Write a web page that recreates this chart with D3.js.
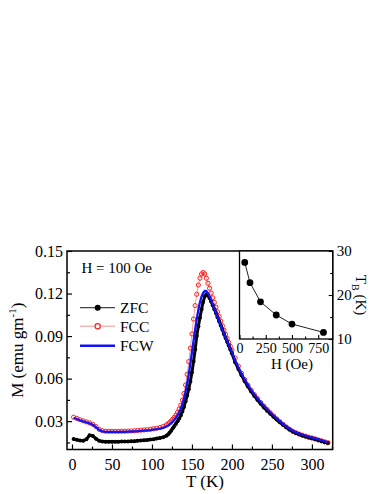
<!DOCTYPE html>
<html>
<head>
<meta charset="utf-8">
<script src="https://cdn.jsdelivr.net/npm/d3@7"></script>
<style>
  body { margin: 0; background: #fff; }
  svg text { font-family: "Liberation Serif", "Times New Roman", serif; fill: #000; }
</style>
</head>
<body>
<svg id="chart" width="382" height="494"></svg>
<script>
// temperatures (K) shared by the three curves
var tempK = [2,6,10,14,18,22,26,30,34,38,42,46,50,54,58,62,66,70,74,78,82,86,90,94,98,102,106,110,114,118,
  120,122,124,126,128,130,132,134,136,138,140,142,144,146,148,150,152,154,156,158,160,162,164,166,168,170,
  172,174,176,178,180,182,184,186,188,190,192,194,196,198,200,
  204,208,212,216,220,224,228,232,236,240,244,248,252,256,260,264,268,272,276,280,284,288,292,296,300,304,308,312,316,320];

var zfc = [0.0174,0.0168,0.0163,0.0162,0.0172,0.0200,0.0196,0.0176,0.0161,0.0156,0.0155,0.0155,0.0155,0.0155,0.0155,0.0156,0.0156,0.0157,0.0158,0.0159,0.0161,0.0163,0.0165,0.0167,0.0170,0.0173,0.0177,0.0181,0.0187,0.0197,
  0.0205,0.0218,0.0233,0.0249,0.0265,0.0282,0.0300,0.0318,0.0340,0.0368,0.0400,0.0440,0.0480,0.0525,0.0580,0.0645,0.0720,0.0805,0.0900,0.0970,0.1030,0.1090,0.1140,0.1180,0.1195,0.1188,
  0.1168,0.1143,0.1117,0.1090,0.1062,0.1033,0.1004,0.0975,0.0946,0.0915,0.0887,0.0860,0.0833,0.0806,0.0778,
  0.0716,0.0668,0.0623,0.0582,0.0544,0.0509,0.0478,0.0449,0.0422,0.0397,0.0374,0.0352,0.0331,0.0311,0.0292,0.0274,0.0257,0.0241,0.0227,0.0216,0.0207,0.0199,0.0192,0.0185,0.0179,0.0173,0.0166,0.0159,0.0152,0.0146];

var fcc = [0.0328,0.0319,0.0310,0.0302,0.0295,0.0288,0.0278,0.0262,0.0242,0.0232,0.0229,0.0228,0.0228,0.0228,0.0228,0.0229,0.0229,0.0230,0.0231,0.0232,0.0234,0.0236,0.0238,0.0240,0.0243,0.0246,0.0250,0.0255,0.0262,0.0273,
  0.0281,0.0290,0.0301,0.0313,0.0327,0.0343,0.0362,0.0385,0.0412,0.0448,0.0495,0.0555,0.0630,0.0720,0.0815,0.0915,0.1020,0.1115,0.1195,0.1260,0.1308,0.1338,0.1348,0.1338,0.1308,0.1272,
  0.1237,0.1203,0.1170,0.1137,0.1104,0.1071,0.1038,0.1005,0.0973,0.0942,0.0912,0.0883,0.0855,0.0828,0.0801,
  0.0745,0.0688,0.0637,0.0593,0.0553,0.0518,0.0487,0.0458,0.0431,0.0406,0.0382,0.0359,0.0337,0.0316,0.0296,0.0277,0.0259,0.0243,0.0229,0.0218,0.0209,0.0201,0.0194,0.0187,0.0181,0.0175,0.0168,0.0161,0.0154,0.0148];

var fcw = [0.0324,0.0315,0.0306,0.0298,0.0291,0.0284,0.0274,0.0257,0.0238,0.0228,0.0225,0.0224,0.0224,0.0224,0.0224,0.0225,0.0225,0.0226,0.0227,0.0228,0.0229,0.0231,0.0233,0.0235,0.0237,0.0240,0.0243,0.0247,0.0253,0.0262,
  0.0268,0.0276,0.0285,0.0296,0.0309,0.0324,0.0342,0.0363,0.0388,0.0420,0.0460,0.0508,0.0565,0.0632,0.0706,0.0786,0.0866,0.0945,0.1020,0.1085,0.1138,0.1178,0.1205,0.1218,0.1217,0.1203,
  0.1180,0.1153,0.1124,0.1094,0.1064,0.1034,0.1004,0.0975,0.0946,0.0918,0.0891,0.0864,0.0838,0.0812,0.0787,
  0.0728,0.0680,0.0635,0.0594,0.0556,0.0521,0.0490,0.0461,0.0434,0.0409,0.0385,0.0362,0.0340,0.0319,0.0299,0.0280,0.0262,0.0246,0.0232,0.0221,0.0212,0.0204,0.0197,0.0190,0.0184,0.0178,0.0171,0.0164,0.0157,0.0151];

// inset: blocking temperature vs field
var fieldOe = [50, 100, 200, 350, 500, 800];
var blockT = [27.4, 22.8, 18.45, 15.45, 13.4, 11.5];

var xTicks = [0, 50, 100, 150, 200, 250, 300];
var xMinor = [25, 75, 125, 175, 225, 275, 325];
var yTicks = [0.03, 0.06, 0.09, 0.12, 0.15];
var yMinor = [0.015, 0.045, 0.075, 0.105, 0.135];
var insetXTicks = [0, 250, 500, 750];
var insetXMinor = [125, 375, 625];
var insetYTicks = [10, 20, 30];
var insetYMinor = [15, 25];

var legendNames = ["ZFC", "FCC", "FCW"];

var red = "#ff2020", blue = "#1212f2";

var svg = d3.select("#chart");

var pLeft = 67, pRight = 332.7, pTop = 251, pBottom = 449.5;

var x = d3.scaleLinear().domain([-6.25, 326]).range([pLeft, pRight]);
var y = d3.scaleLinear().domain([0.01, 0.15]).range([pBottom, pTop]);

// main axes, ticks point inward
svg.append("g")
    .attr("transform", "translate(0," + pBottom + ")")
    .call(d3.axisBottom(x).tickValues(xTicks).tickSizeInner(-5).tickSizeOuter(0).tickPadding(9).tickFormat(d3.format("d")))
    .call(function(g) {
        g.select(".domain").remove();
        g.selectAll("text").style("font-size", "16px").attr("font-family", null);
    });
svg.append("g")
    .attr("transform", "translate(0," + pBottom + ")")
    .call(d3.axisBottom(x).tickValues(xMinor).tickSizeInner(-3).tickSizeOuter(0).tickFormat(""))
    .call(function(g) { g.select(".domain").remove(); });

svg.append("g")
    .attr("transform", "translate(" + pLeft + ",0)")
    .call(d3.axisLeft(y).tickValues(yTicks).tickSizeInner(-5).tickSizeOuter(0).tickPadding(4).tickFormat(d3.format(".2f")))
    .call(function(g) {
        g.select(".domain").remove();
        g.selectAll("text").style("font-size", "16px").attr("font-family", null);
    });
svg.append("g")
    .attr("transform", "translate(" + pLeft + ",0)")
    .call(d3.axisLeft(y).tickValues(yMinor).tickSizeInner(-3).tickSizeOuter(0).tickFormat(""))
    .call(function(g) { g.select(".domain").remove(); });

svg.selectAll(".tick line").attr("stroke", "#000").attr("stroke-width", 1.2);

// curves
var line = d3.line()
    .x(function(d, i) { return x(tempK[i]); })
    .y(function(d) { return y(d); });

svg.append("path").datum(fcc)
    .attr("d", line).attr("fill", "none").attr("stroke", "#f7a0a0").attr("stroke-width", 1);
svg.append("g").selectAll("circle").data(fcc).enter().append("circle")
    .attr("cx", function(d, i) { return x(tempK[i]); })
    .attr("cy", function(d) { return y(d); })
    .attr("r", 2.1)
    .attr("fill", "none").attr("stroke", red).attr("stroke-width", 1);

svg.append("path").datum(zfc)
    .attr("d", line).attr("fill", "none").attr("stroke", "#000").attr("stroke-width", 3);
svg.append("g").selectAll("circle").data(zfc).enter().append("circle")
    .attr("cx", function(d, i) { return x(tempK[i]); })
    .attr("cy", function(d) { return y(d); })
    .attr("r", 2)
    .attr("fill", "#000");

svg.append("path").datum(fcw)
    .attr("d", line).attr("fill", "none").attr("stroke", blue).attr("stroke-width", 2.3);

// frame
svg.append("rect")
    .attr("x", pLeft).attr("y", pTop)
    .attr("width", pRight - pLeft).attr("height", pBottom - pTop)
    .attr("fill", "none").attr("stroke", "#000").attr("stroke-width", 1.5);

// axis titles
svg.append("text")
    .attr("x", 205).attr("y", 487)
    .attr("text-anchor", "middle")
    .style("font-size", "17px")
    .text("T (K)");

var yt = svg.append("text")
    .attr("transform", "translate(23," + ((pTop + pBottom) / 2) + ") rotate(-90)")
    .attr("text-anchor", "middle")
    .style("font-size", "17px");
yt.append("tspan").text("M (emu gm");
yt.append("tspan").attr("dy", -7).style("font-size", "11px").text("-1");
yt.append("tspan").attr("dy", 7).text(")");

// field annotation and legend
svg.append("text")
    .attr("x", 81.5).attr("y", 273.3)
    .style("font-size", "15px")
    .text("H = 100 Oe");

var legY = [307.7, 326.3, 345.7];
var leg = svg.append("g");
leg.append("line").attr("x1", 80).attr("x2", 115).attr("y1", legY[0]).attr("y2", legY[0])
    .attr("stroke", "#444").attr("stroke-width", 1.2);
leg.append("circle").attr("cx", 97.7).attr("cy", legY[0]).attr("r", 3).attr("fill", "#000");
leg.append("line").attr("x1", 80).attr("x2", 115).attr("y1", legY[1]).attr("y2", legY[1])
    .attr("stroke", "#f6b8b8").attr("stroke-width", 1.5);
leg.append("circle").attr("cx", 97.7).attr("cy", legY[1]).attr("r", 2.6)
    .attr("fill", "#fff").attr("stroke", red).attr("stroke-width", 1.2);
leg.append("line").attr("x1", 80).attr("x2", 115).attr("y1", legY[2]).attr("y2", legY[2])
    .attr("stroke", blue).attr("stroke-width", 2.5);
leg.selectAll("text").data(legendNames).enter().append("text")
    .attr("x", 120)
    .attr("y", function(d, i) { return legY[i] + 5.5; })
    .style("font-size", "15.5px")
    .text(function(d) { return d; });

// inset
var iLeft = 239.5, iRight = pRight, iTop = pTop, iBottom = 339;
var ix = d3.scaleLinear().domain([0, 888]).range([iLeft, iRight]);
var iy = d3.scaleLinear().domain([10, 30]).range([iBottom, iTop]);

svg.append("rect")
    .attr("x", iLeft).attr("y", iTop)
    .attr("width", iRight - iLeft).attr("height", iBottom - iTop)
    .attr("fill", "#fff").attr("stroke", "#000").attr("stroke-width", 1.3);

var inset = svg.append("g");
inset.append("g")
    .attr("transform", "translate(0," + iBottom + ")")
    .call(d3.axisBottom(ix).tickValues(insetXTicks).tickSizeInner(-4).tickSizeOuter(0).tickPadding(4))
    .call(function(g) {
        g.select(".domain").remove();
        g.selectAll("text").style("font-size", "14px").attr("font-family", null);
    });
inset.append("g")
    .attr("transform", "translate(0," + iBottom + ")")
    .call(d3.axisBottom(ix).tickValues(insetXMinor).tickSizeInner(-2.5).tickSizeOuter(0).tickFormat(""))
    .call(function(g) { g.select(".domain").remove(); });
inset.append("g")
    .attr("transform", "translate(" + iRight + ",0)")
    .call(d3.axisRight(iy).tickValues(insetYTicks).tickSizeInner(-4).tickSizeOuter(0).tickPadding(4))
    .call(function(g) {
        g.select(".domain").remove();
        g.selectAll("text").style("font-size", "15px").attr("font-family", null);
    });
inset.append("g")
    .attr("transform", "translate(" + iRight + ",0)")
    .call(d3.axisRight(iy).tickValues(insetYMinor).tickSizeInner(-2.5).tickSizeOuter(0).tickFormat(""))
    .call(function(g) { g.select(".domain").remove(); });
inset.selectAll(".tick line").attr("stroke", "#000").attr("stroke-width", 1.1);

inset.append("path").datum(blockT)
    .attr("d", d3.line()
        .x(function(d, i) { return ix(fieldOe[i]); })
        .y(function(d) { return iy(d); }))
    .attr("fill", "none").attr("stroke", "#222").attr("stroke-width", 1);
inset.selectAll("circle").data(blockT).enter().append("circle")
    .attr("cx", function(d, i) { return ix(fieldOe[i]); })
    .attr("cy", function(d) { return iy(d); })
    .attr("r", 3.4)
    .attr("fill", "#000");

inset.append("text")
    .attr("x", 292).attr("y", 369)
    .attr("text-anchor", "middle")
    .style("font-size", "15px")
    .text("H (Oe)");

var it = inset.append("text")
    .attr("transform", "translate(356,295) rotate(90)")
    .attr("text-anchor", "middle")
    .style("font-size", "15px");
it.append("tspan").text("T");
it.append("tspan").attr("dy", 4).style("font-size", "10px").text("B");
it.append("tspan").attr("dy", -4).text(" (K)");
</script>
</body>
</html>
